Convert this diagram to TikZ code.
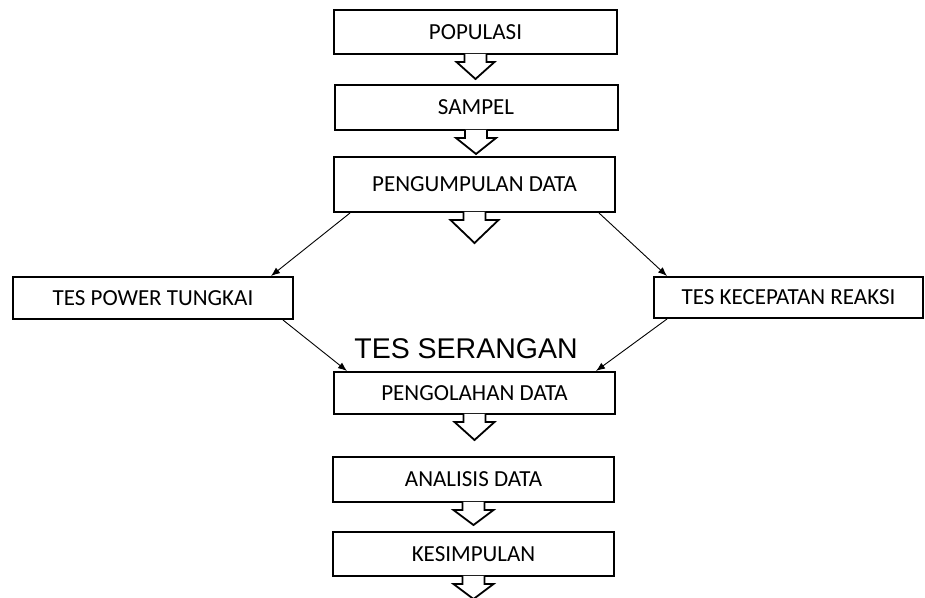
\documentclass[tikz,border=0pt]{standalone}
\usepackage{fontspec}
\setmainfont{Carlito}
\newfontfamily\arialfont{Liberation Sans}
\usepackage{tikz}
\usetikzlibrary{arrows.meta,positioning}
\tikzstyle{box}   =[rectangle, draw, line width=2pt, inner sep=0pt,
                    minimum width=281pt, font=\fontsize{23}{27}\selectfont]
\tikzstyle{edge}  =[line width=0.9pt, >={Latex[length=9pt,width=7pt]}]
\tikzstyle{fatarrow}=[line width=1.8pt, fill=white, line join=miter]
% hollow down arrow under a box: node, head half width, tip depth
\newcommand{\blockarrow}[3]{%
    \filldraw[fatarrow] (#1.south) ++(-11,-1.2) -- ++(0,8.2) -- ++(11-#2,0)
        -- ++(#2,#3-7) -- ++(#2,7-#3) -- ++(11-#2,0) -- ++(0,-8.2);}

\begin{document}
\begin{tikzpicture}[x=1pt,y=-1pt]
    \useasboundingbox (0,0) rectangle (925,597);

        \draw (475.5,32) node (pop) [box,minimum width=283pt,minimum height=44pt] {POPULASI};
        \draw (476,107.5) node (sam) [box,minimum width=283pt,minimum height=45pt] {SAMPEL};
        \draw (474.5,184.5) node (pgd) [box,minimum height=55pt] {PENGUMPULAN DATA};
        \draw (153,298) node (pow) [box,minimum width=280pt,minimum height=42pt] {TES POWER TUNGKAI};
        \draw (788.5,297.5) node (kec) [box,minimum width=269pt,minimum height=41pt] {TES KECEPATAN REAKSI};
        \draw (474.5,393) node (olah) [box,minimum height=42pt] {PENGOLAHAN DATA};
        \draw (473.5,479.5) node (anl) [box,minimum height=45pt] {ANALISIS DATA};
        \draw (473.5,554) node (kes) [box,minimum height=44pt] {KESIMPULAN};

        \node (srg) [anchor=base] at (466,358) {\arialfont\fontsize{28.5}{31}\selectfont TES SERANGAN};

        \blockarrow{pop}{19}{24}
        \blockarrow{sam}{20}{23}
        \blockarrow{pgd}{24}{30}
        \blockarrow{olah}{20}{25}
        \blockarrow{anl}{20}{22}
        \blockarrow{kes}{20}{22}

        \coordinate (pgdL)  at ([xshift=17pt]pgd.south west);
        \coordinate (pgdR)  at ([xshift=-17pt]pgd.south east);
        \coordinate (powT)  at ([xshift=-23pt]pow.north east);
        \coordinate (powB)  at ([xshift=-11pt]pow.south east);
        \coordinate (kecT)  at ([xshift=14pt]kec.north west);
        \coordinate (kecB)  at ([xshift=14pt]kec.south west);
        \coordinate (olahL) at ([xshift=14pt]olah.north west);
        \coordinate (olahR) at ([xshift=-20pt]olah.north east);

        \foreach \i/\j in {pgdL/powT,pgdR/kecT,powB/olahL,kecB/olahR}
            \draw [edge,->] (\i) to (\j);

\end{tikzpicture}
\end{document}
